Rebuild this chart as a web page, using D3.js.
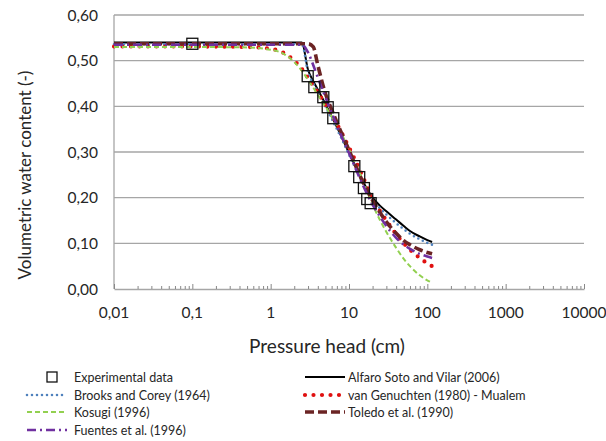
<!DOCTYPE html>
<html>
<head>
<meta charset="utf-8">
<script src="https://cdn.jsdelivr.net/npm/d3@7"></script>
<style>
  html, body { margin: 0; padding: 0; background: #fff; }
  svg { display: block; font-family: Lato, "Open Sans", sans-serif; }
</style>
</head>
<body>
<svg id="chart" width="606" height="441"></svg>
<script>
// Pressure head (cm) sampled for the fitted retention curves
const heads = [0.01, 0.1, 0.5, 1, 1.5, 2, 2.5, 3, 3.5, 4, 5, 6, 8, 10, 12, 15, 20, 25, 30, 40, 50, 60, 80, 100, 115];

// Fitted volumetric water content for each model
const alfaroSoto = [0.540, 0.540, 0.540, 0.540, 0.540, 0.540, 0.540, 0.480, 0.455, 0.437, 0.405, 0.378, 0.334, 0.298, 0.270, 0.236, 0.200, 0.182, 0.170, 0.152, 0.138, 0.127, 0.115, 0.107, 0.103];
const brooksCorey = [0.536, 0.536, 0.536, 0.536, 0.536, 0.536, 0.536, 0.475, 0.450, 0.432, 0.400, 0.373, 0.330, 0.294, 0.266, 0.232, 0.195, 0.176, 0.163, 0.144, 0.131, 0.121, 0.109, 0.101, 0.097];
const vanGenuchten = [0.531, 0.531, 0.530, 0.526, 0.516, 0.500, 0.482, 0.462, 0.445, 0.430, 0.404, 0.382, 0.343, 0.310, 0.282, 0.246, 0.196, 0.170, 0.150, 0.120, 0.100, 0.086, 0.068, 0.056, 0.050];
const kosugi = [0.530, 0.530, 0.529, 0.524, 0.514, 0.497, 0.478, 0.458, 0.441, 0.425, 0.400, 0.378, 0.340, 0.306, 0.276, 0.238, 0.185, 0.150, 0.125, 0.090, 0.066, 0.050, 0.030, 0.019, 0.014];
const toledo = [0.537, 0.537, 0.537, 0.537, 0.537, 0.537, 0.537, 0.537, 0.530, 0.490, 0.428, 0.393, 0.342, 0.304, 0.272, 0.235, 0.194, 0.167, 0.147, 0.122, 0.106, 0.097, 0.086, 0.080, 0.077];
const fuentes = [0.535, 0.535, 0.535, 0.535, 0.535, 0.535, 0.535, 0.518, 0.490, 0.463, 0.420, 0.386, 0.335, 0.298, 0.266, 0.228, 0.185, 0.158, 0.138, 0.112, 0.097, 0.088, 0.077, 0.071, 0.068];

// Measured points
const expHead = [0.1, 2.97, 3.61, 4.70, 5.35, 6.3, 11.7, 13.5, 15.5, 17.1, 18.9];
const expTheta = [0.537, 0.466, 0.442, 0.420, 0.398, 0.374, 0.269, 0.245, 0.221, 0.197, 0.188];

// Axis ticks
const xTicks = [0.01, 0.1, 1, 10, 100, 1000, 10000];
const xTickLabels = ["0,01", "0,1", "1", "10", "100", "1000", "10000"];
const yTicks = [0, 0.1, 0.2, 0.3, 0.4, 0.5, 0.6];
const yTickLabels = ["0,00", "0,10", "0,20", "0,30", "0,40", "0,50", "0,60"];

const series = [
  { name: "Alfaro Soto and Vilar (2006)", values: alfaroSoto, color: "#000000", width: 2, dash: null, cap: "butt" },
  { name: "Brooks and Corey (1964)", values: brooksCorey, color: "#4F81BD", width: 2.6, dash: "0 5", cap: "round" },
  { name: "van Genuchten (1980) - Mualem", values: vanGenuchten, color: "#E01010", width: 4.2, dash: "0 8.5", cap: "round" },
  { name: "Kosugi (1996)", values: kosugi, color: "#92D050", width: 2, dash: "5 3", cap: "butt" },
  { name: "Toledo et al. (1990)", values: toledo, color: "#6B2424", width: 3.6, dash: "9 4", cap: "butt" },
  { name: "Fuentes et al. (1996)", values: fuentes, color: "#7030A0", width: 2.6, dash: "9 4 2 4", cap: "butt" }
];

const svg = d3.select("#chart");
const plotLeft = 114, plotRight = 584, plotTop = 15, plotBottom = 289;

const x = d3.scaleLog().domain([0.01, 10000]).range([plotLeft, plotRight]);
const y = d3.scaleLinear().domain([0, 0.6]).range([plotBottom, plotTop]);

const gridColor = "#a6a6a6";
const textColor = "#262626";

// Horizontal gridlines
svg.append("g")
  .selectAll("line")
  .data(yTicks.filter(d => d > 0))
  .join("line")
  .attr("x1", plotLeft).attr("x2", plotRight)
  .attr("y1", d => y(d)).attr("y2", d => y(d))
  .attr("stroke", gridColor).attr("stroke-width", 1.3);

// Left axis line
svg.append("line")
  .attr("x1", plotLeft).attr("x2", plotLeft)
  .attr("y1", plotTop).attr("y2", plotBottom)
  .attr("stroke", gridColor).attr("stroke-width", 1.3);

// Bottom axis with log minor ticks pointing inward
const xAxis = d3.axisBottom(x)
  .tickValues(x.ticks())
  .tickSize(0)
  .tickFormat("");
const gx = svg.append("g").attr("transform", `translate(0,${plotBottom})`).call(xAxis);
gx.select(".domain").attr("stroke", gridColor).attr("stroke-width", 1.3);
gx.selectAll(".tick line")
  .attr("stroke", "#888")
  .attr("y2", d => xTicks.includes(d) ? -5 : -3);

// X tick labels
svg.append("g")
  .selectAll("text")
  .data(xTicks)
  .join("text")
  .attr("x", d => x(d))
  .attr("y", 318)
  .attr("text-anchor", "middle")
  .attr("font-size", 15.5)
  .attr("fill", textColor)
  .text((d, i) => xTickLabels[i]);

// Y tick labels
svg.append("g")
  .selectAll("text")
  .data(yTicks)
  .join("text")
  .attr("x", 98)
  .attr("y", d => y(d) + 5.5)
  .attr("text-anchor", "end")
  .attr("font-size", 15.5)
  .attr("fill", textColor)
  .text((d, i) => yTickLabels[i]);

// Axis titles
svg.append("text")
  .attr("x", 327).attr("y", 353)
  .attr("text-anchor", "middle")
  .attr("font-size", 19)
  .attr("fill", textColor)
  .text("Pressure head (cm)");

svg.append("text")
  .attr("transform", "translate(31,175) rotate(-90)")
  .attr("text-anchor", "middle")
  .attr("font-size", 17)
  .attr("fill", textColor)
  .text("Volumetric water content (-)");

// Model curves
const line = d3.line()
  .x(d => x(d[0]))
  .y(d => y(d[1]))
  .curve(d3.curveMonotoneX);

const plot = svg.append("g");
series.forEach(s => {
  plot.append("path")
    .datum(heads.map((h, i) => [h, s.values[i]]))
    .attr("d", line)
    .attr("fill", "none")
    .attr("stroke", s.color)
    .attr("stroke-width", s.width)
    .attr("stroke-dasharray", s.dash)
    .attr("stroke-linecap", s.cap);
});

// Experimental points as hollow squares
const sq = 11;
plot.append("g")
  .selectAll("rect")
  .data(expHead.map((h, i) => [h, expTheta[i]]))
  .join("rect")
  .attr("x", d => x(d[0]) - sq / 2)
  .attr("y", d => y(d[1]) - sq / 2)
  .attr("width", sq).attr("height", sq)
  .attr("fill", "none")
  .attr("stroke", "#111")
  .attr("stroke-width", 1.3);

// Legend in two columns
const legend = svg.append("g").attr("font-size", 12.5).attr("fill", textColor);
const rowY = [377, 395, 412, 430];
const leftItems = [
  { kind: "square", name: "Experimental data" },
  series[1], series[3], series[5]
];
const rightItems = [series[0], series[2], series[4]];

function drawItem(item, x0, x1, yy, tx) {
  if (item.kind === "square") {
    legend.append("rect")
      .attr("x", 47).attr("y", yy - 5).attr("width", 10).attr("height", 10)
      .attr("fill", "none").attr("stroke", "#111").attr("stroke-width", 1.3);
  } else {
    legend.append("line")
      .attr("x1", x0).attr("x2", x1).attr("y1", yy).attr("y2", yy)
      .attr("stroke", item.color)
      .attr("stroke-width", item.width)
      .attr("stroke-dasharray", item.dash)
      .attr("stroke-linecap", item.cap);
  }
  legend.append("text")
    .attr("x", tx).attr("y", yy + 4.5)
    .attr("fill", textColor)
    .text(item.name);
}
leftItems.forEach((it, i) => drawItem(it, 27, 67, rowY[i], 74));
rightItems.forEach((it, i) => drawItem(it, 305, 345, rowY[i], 348));
</script>
</body>
</html>
